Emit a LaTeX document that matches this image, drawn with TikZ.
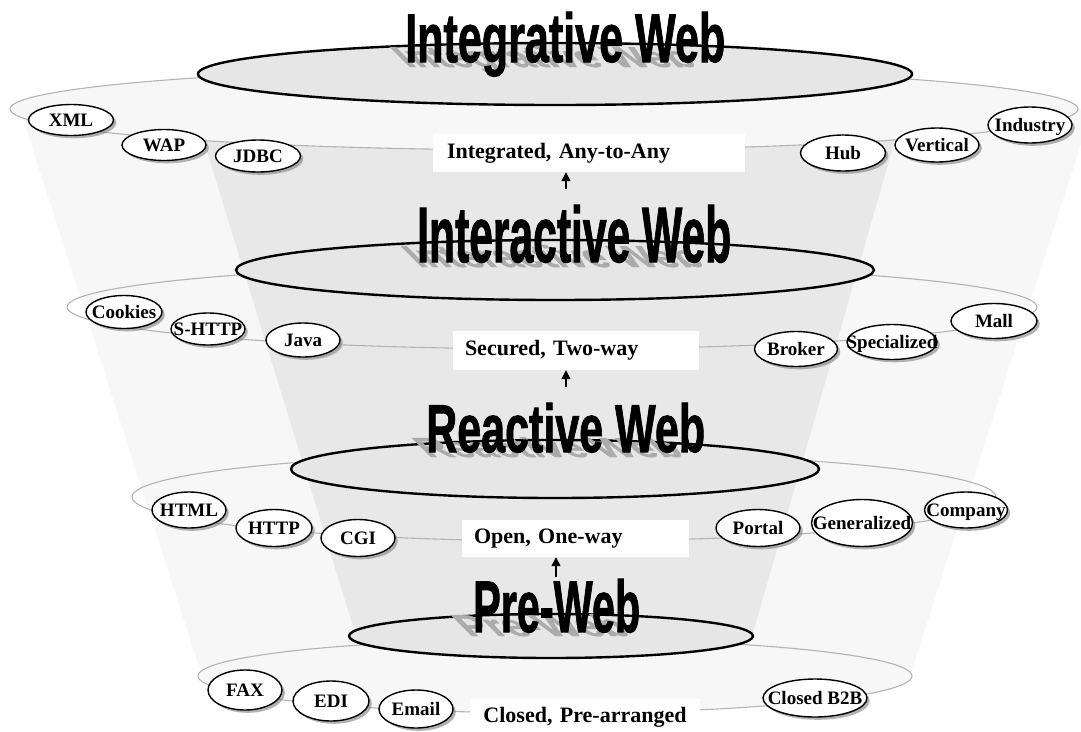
\documentclass[tikz,border=0pt]{standalone}
\usepackage{fontspec}
\usepackage{graphicx}
\setmainfont{Liberation Serif}
\newfontfamily\titlefont[FakeBold=1.5]{Liberation Sans}
\usetikzlibrary{positioning, arrows.meta, shapes.geometric, shadows}
\frenchspacing

\definecolor{funnellight}{HTML}{F7F7F7}
\definecolor{funneldark}{HTML}{E8E8E8}
\definecolor{discfill}{HTML}{E6E6E6}
\definecolor{ringgray}{HTML}{B4B4B4}
\definecolor{shadowgray}{HTML}{ABABAB}

% text of a chip, centred on the node without widening it
\newcommand{\chiptext}[1]{\makebox[0pt][c]{\raisebox{-0.33em}[0pt][0pt]{#1}}}
% condensed heading of one level
\newcommand{\webtitle}[3]{\resizebox{#1}{#2}{\titlefont\bfseries #3}}

\begin{document}
\begin{tikzpicture}[
			x=1pt, y=1pt,
			ring/.style={ellipse, draw=ringgray, line width=1.1pt, inner sep=0pt},
			disc/.style={ellipse, draw, line width=2.4pt, fill=discfill, inner sep=0pt},
			chip/.style={ellipse, draw, line width=1.4pt, fill=white, inner sep=0pt, font=\fontsize{19}{19}\selectfont\bfseries, drop shadow={shadow xshift=2.8pt, shadow yshift=-2.8pt, opacity=0.6}},
			levelbox/.style={rectangle, fill=white, inner sep=0pt, font=\fontsize{22}{24}\selectfont\bfseries},
			heading/.style={inner sep=0pt, anchor=base west},
			headshadow/.style={inner sep=0pt, anchor=base west, text=shadowgray, xslant=-1},
			arrow/.style={line width=1.4pt, -{Triangle[length=9pt, width=9pt]}}
			]
			
			\useasboundingbox (0,0) rectangle (1081,-731);
			\fill[white] (0,0) rectangle (1081,-731);
			
			% Funnel body
			\fill[funnellight] (20,-109) -- (1092,-109) -- (910,-676) -- (202,-676) -- cycle;
			\fill[funneldark] (194,-109) -- (904,-109) -- (752,-636) -- (356,-636) -- cycle;
			
			% Integrative Web
			\node[ring, fill=funnellight, minimum width=1068pt, minimum height=82pt] (ring1) at (544,-109) {};
			\node[disc, minimum width=714pt, minimum height=62pt] (disc1) at (555,-74) {};
			\node[headshadow] (shade1) at (407,-67) {\webtitle{292pt}{21pt}{Integrative Web}};
			\node[heading] (title1) at (405,-62) {\webtitle{320pt}{50pt}{Integrative Web}};
			
			% Interactive Web
			\node[ring, minimum width=970pt, minimum height=84pt] (ring2) at (552,-307) {};
			\node[disc, minimum width=638pt, minimum height=60pt] (disc2) at (555,-270) {};
			\node[headshadow] (shade2) at (419,-267) {\webtitle{288pt}{22pt}{Interactive Web}};
			\node[heading] (title2) at (417,-262) {\webtitle{314pt}{57pt}{Interactive Web}};
			
			% Reactive Web
			\node[ring, minimum width=864pt, minimum height=88pt] (ring3) at (564,-497) {};
			\node[disc, minimum width=528pt, minimum height=58pt] (disc3) at (555,-469) {};
			\node[headshadow] (shade3) at (428,-457) {\webtitle{258pt}{20pt}{Reactive Web}};
			\node[heading] (title3) at (426,-452) {\webtitle{279pt}{49pt}{Reactive Web}};
			
			% Pre-Web
			\node[ring, fill=funnellight, minimum width=714pt, minimum height=74pt] (ring4) at (555,-676) {};
			\node[disc, minimum width=404pt, minimum height=44pt] (disc4) at (551,-636) {};
			\node[headshadow] (shade4) at (469,-636) {\webtitle{164pt}{22pt}{Pre-Web}};
			\node[heading] (title4) at (473,-632) {\webtitle{167pt}{53pt}{Pre-Web}};
			
			% Level boxes
			\node[levelbox, minimum width=312pt, minimum height=38pt, text width=284pt, align=left] (box1) at (589,-153) {Integrated,\ Any-to-Any};
			\node[levelbox, minimum width=246pt, minimum height=39pt, text width=222pt, align=left] (box2) at (576,-350.5) {Secured,\ Two-way};
			\node[levelbox, minimum width=227pt, minimum height=37pt, text width=203pt, align=left] (box3) at (575.5,-538.5) {Open,\ One-way};
			\node[levelbox, minimum width=230pt, minimum height=36pt, text width=210pt, align=center] (box4) at (585,-717) {Closed,\ Pre-arranged};
			
			% Arrows
			\coordinate[below=17pt of box1.south, xshift=-23pt] (tail1);
			\coordinate[below=17pt of box2.south, xshift=-10pt] (tail2);
			\coordinate[below=20pt of box3.south, xshift=-19.5pt] (tail3);
			\draw[arrow] (tail1) -- (tail1 |- box1.south);
			\draw[arrow] (tail2) -- (tail2 |- box2.south);
			\draw[arrow] (tail3) -- (tail3 |- box3.south);
			
			% Chips of the integrative level
			\node[chip, minimum width=85pt, minimum height=31pt] (xml) at (71,-120) {\chiptext{XML}};
			\node[chip, minimum width=84pt, minimum height=31pt] (wap) at (164,-145) {\chiptext{WAP}};
			\node[chip, minimum width=85pt, minimum height=32pt] (jdbc) at (258,-156) {\chiptext{JDBC}};
			\node[chip, minimum width=85pt, minimum height=36pt] (hub) at (843,-153) {\chiptext{Hub}};
			\node[chip, minimum width=84pt, minimum height=34pt] (vertical) at (937,-145) {\chiptext{Vertical}};
			\node[chip, minimum width=84pt, minimum height=36pt] (industry) at (1030,-125) {\chiptext{Industry}};
			
			% Chips of the interactive level
			\node[chip, minimum width=76pt, minimum height=33pt] (cookies) at (124,-312) {\chiptext{Cookies}};
			\node[chip, minimum width=74pt, minimum height=32pt] (shttp) at (208,-329) {\chiptext{S-HTTP}};
			\node[chip, minimum width=74pt, minimum height=34pt] (java) at (303,-340) {\chiptext{Java}};
			\node[chip, minimum width=83pt, minimum height=35pt] (broker) at (796,-349) {\chiptext{Broker}};
			\node[chip, minimum width=90pt, minimum height=35pt] (specialized) at (892,-342) {\chiptext{Specialized}};
			\node[chip, minimum width=86pt, minimum height=35pt] (mall) at (994,-321) {\chiptext{Mall}};
			
			% Chips of the reactive level
			\node[chip, minimum width=74pt, minimum height=36pt] (html) at (189,-510) {\chiptext{HTML}};
			\node[chip, minimum width=76pt, minimum height=37pt] (http) at (274,-528) {\chiptext{HTTP}};
			\node[chip, minimum width=74pt, minimum height=37pt] (cgi) at (358,-538) {\chiptext{CGI}};
			\node[chip, minimum width=84pt, minimum height=37pt] (portal) at (758,-528) {\chiptext{Portal}};
			\node[chip, minimum width=101pt, minimum height=47pt] (generalized) at (862,-523) {\chiptext{Generalized}};
			\node[chip, minimum width=83pt, minimum height=36pt] (company) at (966,-510) {\chiptext{Company}};
			
			% Chips of the pre-web level
			\node[chip, minimum width=74pt, minimum height=40pt] (fax) at (245,-690) {\chiptext{FAX}};
			\node[chip, minimum width=76pt, minimum height=40pt] (edi) at (331,-701) {\chiptext{EDI}};
			\node[chip, minimum width=74pt, minimum height=38pt] (email) at (416,-709) {\chiptext{Email}};
			\node[chip, minimum width=104pt, minimum height=38pt] (closedb2b) at (815,-698) {\chiptext{Closed B2B}};
			
		\end{tikzpicture}
\end{document}
